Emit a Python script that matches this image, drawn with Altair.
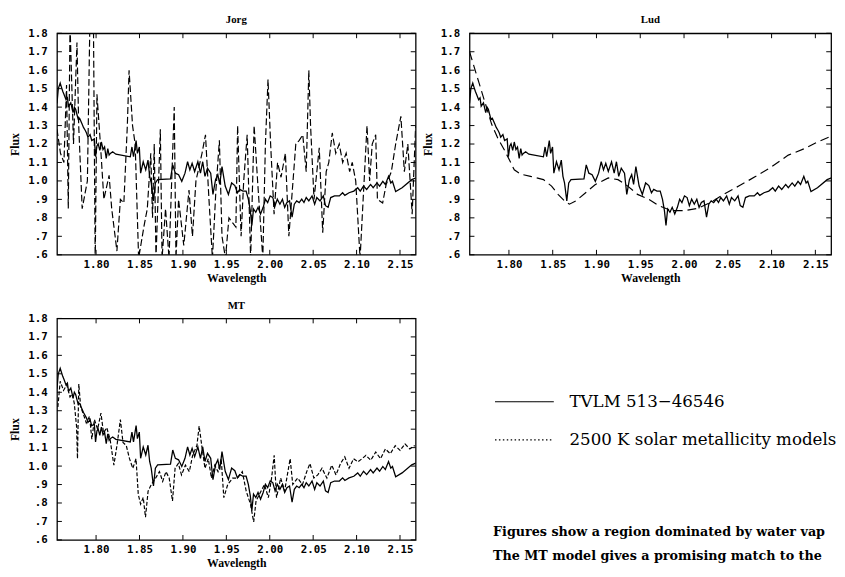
import altair as alt
import pandas as pd

# ---------------- data ----------------
OBS_WL = [1.755, 1.7565, 1.7587, 1.7600, 1.7617, 1.763, 1.7654, 1.767, 1.7683, 1.7709,
          1.7735, 1.7750, 1.7765, 1.778, 1.7794, 1.781, 1.7839, 1.7855, 1.7876, 1.789,
          1.7906, 1.7931, 1.795, 1.798, 1.7994, 1.8010, 1.8024, 1.8043, 1.8061, 1.808,
          1.8098, 1.8117, 1.8135, 1.8150, 1.8165, 1.8191, 1.8228, 1.8394, 1.8413, 1.8431,
          1.8461, 1.8476, 1.8498, 1.8513, 1.8543, 1.8572, 1.8598, 1.8617, 1.8635, 1.8661,
          1.8683, 1.8709, 1.8857, 1.8883, 1.8913, 1.895, 1.8987, 1.9024, 1.9054, 1.908,
          1.9106, 1.9135, 1.9172, 1.9202, 1.9228, 1.9254, 1.9283, 1.932, 1.9346, 1.9376,
          1.9402, 1.9424, 1.945, 1.9487, 1.9524, 1.9561, 1.9598, 1.9628, 1.9654, 1.9691,
          1.9728, 1.9754, 1.9776, 1.9794, 1.9813, 1.9839, 1.9865, 1.9894, 1.9924, 1.995,
          1.9976, 2.0005, 2.0035, 2.0061, 2.0087, 2.0117, 2.0146, 2.0172, 2.0198, 2.0228,
          2.0257, 2.0283, 2.031, 2.0339, 2.0368, 2.0394, 2.042, 2.045, 2.0487, 2.0517,
          2.0542, 2.0579, 2.0617, 2.0642, 2.0672, 2.0702, 2.0746, 2.0802, 2.0839, 2.0865,
          2.0913, 2.0968, 2.1013, 2.1042, 2.108, 2.1116, 2.1161, 2.1191, 2.1235, 2.1265,
          2.1302, 2.1331, 2.1368, 2.1394, 2.1413, 2.145, 2.1524, 2.1635, 2.175]
OBS_FLUX = [1.42, 1.50, 1.53, 1.51, 1.485, 1.47, 1.44, 1.45, 1.405, 1.423,
            1.37, 1.40, 1.388, 1.36, 1.335, 1.34, 1.308, 1.29, 1.273, 1.26,
            1.237, 1.251, 1.219, 1.228, 1.131, 1.19, 1.202, 1.166, 1.211, 1.17,
            1.184, 1.122, 1.175, 1.14, 1.149, 1.158, 1.145, 1.131, 1.184, 1.131,
            1.219, 1.149, 1.184, 1.042, 1.104, 1.06, 1.113, 1.025, 0.989, 0.892,
            0.989, 1.007, 1.011, 1.087, 1.042, 1.034, 0.998, 1.042, 1.104, 1.06,
            1.096, 1.051, 1.104, 1.042, 1.104, 1.025, 1.069, 1.042, 0.927, 1.007,
            1.034, 0.981, 1.078, 0.972, 0.927, 0.989, 0.975, 0.936, 0.954, 0.945,
            0.945, 0.90, 0.839, 0.759, 0.848, 0.83, 0.857, 0.821, 0.857, 0.901,
            0.883, 0.919, 0.91, 0.866, 0.901, 0.874, 0.901, 0.857, 0.883, 0.892,
            0.804, 0.874, 0.892, 0.883, 0.901, 0.883, 0.91, 0.892, 0.919, 0.874,
            0.91, 0.892, 0.919, 0.866, 0.857, 0.91, 0.919, 0.919, 0.936, 0.922,
            0.936, 0.945, 0.963, 0.945, 0.972, 0.954, 0.981, 0.963, 0.989, 0.972,
            0.998, 0.981, 1.025, 0.989, 0.998, 0.942, 0.963, 1.007, 1.03]

JORG_WL = [1.755, 1.759, 1.763, 1.766, 1.768, 1.770, 1.774, 1.778, 1.780, 1.784,
           1.790, 1.793, 1.797, 1.799, 1.801, 1.805, 1.809, 1.815, 1.818, 1.824,
           1.828, 1.832, 1.836, 1.838, 1.842, 1.845, 1.849, 1.855, 1.859, 1.863,
           1.865, 1.867, 1.869, 1.874, 1.876, 1.880, 1.884, 1.890, 1.892, 1.895,
           1.901, 1.907, 1.911, 1.915, 1.922, 1.926, 1.930, 1.934, 1.938, 1.942,
           1.945, 1.949, 1.953, 1.961, 1.963, 1.967, 1.970, 1.974, 1.978, 1.982,
           1.986, 1.992, 1.995, 1.998, 2.001, 2.005, 2.009, 2.013, 2.018, 2.022,
           2.026, 2.030, 2.034, 2.038, 2.042, 2.045, 2.047, 2.051, 2.057, 2.061,
           2.065, 2.068, 2.072, 2.076, 2.080, 2.084, 2.088, 2.092, 2.095, 2.099,
           2.104, 2.107, 2.112, 2.115, 2.118, 2.122, 2.124, 2.130, 2.134, 2.140,
           2.145, 2.151, 2.155, 2.159, 2.164, 2.168]
JORG_FLUX = [1.28, 1.15, 1.10, 1.52, 0.85, 1.85, 1.20, 1.75, 1.30, 0.85,
             1.00, 1.90, 1.85, 0.55, 1.47, 1.20, 0.90, 1.03, 0.85, 0.62,
             0.90, 0.88, 1.30, 1.60, 1.30, 1.20, 0.58, 0.75, 0.85, 1.15,
             0.80, 1.20, 0.58, 1.28, 0.58, 0.85, 0.58, 1.40, 0.58, 0.90,
             0.65, 0.95, 0.70, 1.00, 1.15, 1.25, 0.90, 0.58, 0.95, 1.22,
             0.70, 0.58, 0.80, 0.75, 1.30, 0.70, 1.00, 1.25, 0.58, 1.30,
             1.00, 0.58, 1.20, 1.55, 1.20, 0.82, 1.10, 1.02, 1.15, 0.70,
             0.95, 1.20, 1.22, 1.25, 1.05, 1.60, 1.30, 0.90, 1.18, 0.72,
             1.05, 1.10, 1.26, 1.15, 1.20, 1.10, 1.15, 1.05, 1.10, 1.00,
             0.58, 0.85, 1.30, 1.00, 1.20, 1.25, 0.90, 0.88, 0.98, 1.05,
             1.20, 1.35, 1.05, 1.20, 0.82, 1.30]

LUD_WL = [1.755, 1.758, 1.7654, 1.7728, 1.7802, 1.7876, 1.795, 1.8006, 1.8061, 1.8135,
          1.8246, 1.8394, 1.8487, 1.8561, 1.8635, 1.8691, 1.8765, 1.8876, 1.8987, 1.9135,
          1.9246, 1.9357, 1.9469, 1.9598, 1.9709, 1.9857, 2.0005, 2.0154, 2.0302, 2.045,
          2.0635, 2.082, 2.1005, 2.1191, 2.1376, 2.1524, 2.1654]
LUD_FLUX = [1.70, 1.653, 1.538, 1.423, 1.308, 1.228, 1.166, 1.113, 1.06, 1.037,
            1.025, 1.007, 0.972, 0.927, 0.892, 0.874, 0.892, 0.936, 0.981, 1.016,
            1.007, 0.972, 0.927, 0.900, 0.866, 0.839, 0.839, 0.851, 0.883, 0.927,
            0.975, 1.025, 1.078, 1.14, 1.175, 1.211, 1.237]

MT_WL = [1.756, 1.7587, 1.7625, 1.7662, 1.770, 1.7726, 1.7749, 1.7775, 1.7786, 1.7801,
         1.7823, 1.785, 1.7887, 1.7925, 1.7951, 1.7981, 1.8018, 1.8056, 1.8086, 1.8123,
         1.8161, 1.8205, 1.8243, 1.828, 1.831, 1.8348, 1.8385, 1.8423, 1.846, 1.8486,
         1.8513, 1.8543, 1.8569, 1.8599, 1.8636, 1.8685, 1.873, 1.8767, 1.8805, 1.8842,
         1.888, 1.891, 1.8947, 1.8984, 1.9029, 1.9074, 1.9112, 1.9161, 1.9187, 1.9217,
         1.9254, 1.9292, 1.9329, 1.9367, 1.9404, 1.9441, 1.9471, 1.9516, 1.9573, 1.9628,
         1.9684, 1.9729, 1.9778, 1.9815, 1.9842, 1.989, 1.9939, 1.9984, 2.0021, 2.0051,
         2.0078, 2.0126, 2.0171, 2.0209, 2.0235, 2.0265, 2.0321, 2.0377, 2.0426, 2.0463,
         2.0508, 2.0553, 2.0602, 2.0658, 2.0714, 2.0763, 2.0815, 2.0864, 2.0913, 2.0965,
         2.1014, 2.1063, 2.1108, 2.1164, 2.122, 2.1276, 2.1332, 2.1388, 2.1445, 2.1501,
         2.1557, 2.1613, 2.1669]
MT_FLUX = [1.32, 1.46, 1.41, 1.44, 1.375, 1.39, 1.34, 1.217, 1.04, 1.445,
           1.32, 1.287, 1.234, 1.27, 1.146, 1.252, 1.20, 1.287, 1.18, 1.208,
           1.146, 1.005, 1.12, 1.252, 1.128, 1.111, 1.04, 0.988, 1.04, 0.847,
           0.794, 0.83, 0.723, 0.864, 0.90, 0.935, 0.97, 0.917, 0.97, 0.935,
           0.811, 0.988, 1.014, 0.952, 1.005, 0.97, 1.058, 1.111, 1.217, 1.111,
           0.988, 1.04, 0.935, 1.005, 0.97, 1.04, 0.829, 0.90, 0.935, 0.935,
           0.97, 0.864, 0.794, 0.697, 0.811, 0.855, 0.90, 0.829, 0.935, 1.058,
           0.829, 0.935, 0.864, 0.97, 1.04, 0.90, 0.935, 0.90, 0.97, 1.014,
           0.935, 0.952, 0.988, 0.935, 1.005, 0.952, 1.014, 1.05, 0.988, 1.04,
           1.023, 1.04, 1.058, 1.032, 1.076, 1.04, 1.093, 1.067, 1.111, 1.085,
           1.12, 1.093, 1.111]

Y_TICKS = [0.6, 0.7, 0.8, 0.9, 1.0, 1.1, 1.2, 1.3, 1.4, 1.5, 1.6, 1.7, 1.8]
X_TICKS = [1.80, 1.85, 1.90, 1.95, 2.00, 2.05, 2.10, 2.15]

SERIES = ["TVLM 513\u221246546", "2500 K solar metallicity models"]
NOTES = ["Figures show a region dominated by water vapor absorption.",
         "The MT model gives a promising match to the data."]

# ---------------- chart ----------------
X_DOMAIN = [1.755, 2.168]
Y_DOMAIN = [0.6, 1.8]
H = 226

obs_df = pd.DataFrame({"w": OBS_WL, "f": OBS_FLUX})
ytick_df = pd.DataFrame({"v": Y_TICKS})
xtick_df = pd.DataFrame({"v": X_TICKS})

xs = alt.Scale(domain=X_DOMAIN, nice=False, zero=False)
ys = alt.Scale(domain=Y_DOMAIN, nice=False, zero=False)

xaxis = alt.Axis(values=X_TICKS, format=".2f", title="Wavelength", domain=False, ticks=False,
                 grid=False, labelFont="DejaVu Sans Mono", labelFontWeight="bold",
                 labelFontSize=11, labelColor="black", labelPadding=4, labelFlush=False,
                 labelOverlap=False, titleFont="Liberation Serif", titleFontWeight="bold",
                 titleFontSize=12, titleColor="black", titlePadding=3)
yaxis = alt.Axis(values=Y_TICKS,
                 labelExpr="datum.value >= 1 ? format(datum.value, '.1f') : replace(format(datum.value, '.1f'), '0.', '.')",
                 title="Flux", domain=False, ticks=False, grid=False,
                 labelFont="DejaVu Sans Mono", labelFontWeight="bold", labelFontSize=11,
                 labelColor="black", labelPadding=10, labelFlush=False, labelOverlap=False,
                 titleFont="Liberation Serif", titleFontWeight="bold", titleFontSize=12,
                 titleColor="black", titlePadding=6)


def panel(title, wl, flux, dash, width):
    model_df = pd.DataFrame({"w": wl, "f": flux})
    X = alt.X("w:Q", scale=xs, axis=xaxis)
    Y = alt.Y("f:Q", scale=ys, axis=yaxis)
    obs = alt.Chart(obs_df).mark_line(color="black", strokeWidth=1.3, clip=True).encode(x=X, y=Y)
    mod = alt.Chart(model_df).mark_line(color="black", strokeWidth=1.2, strokeDash=dash,
                                        clip=True).encode(x=X, y=Y)
    TX = alt.X("v:Q", scale=xs, axis=xaxis)
    TY = alt.Y("v:Q", scale=ys, axis=yaxis)
    yl = alt.Chart(ytick_df).mark_rule(color="black", strokeWidth=1).encode(
        y=TY, x=alt.value(0), x2=alt.value(5))
    yr = alt.Chart(ytick_df).mark_rule(color="black", strokeWidth=1).encode(
        y=TY, x=alt.value(width - 5), x2=alt.value(width))
    xb = alt.Chart(xtick_df).mark_rule(color="black", strokeWidth=1).encode(
        x=TX, y=alt.value(H - 5), y2=alt.value(H))
    xt = alt.Chart(xtick_df).mark_rule(color="black", strokeWidth=1).encode(
        x=TX, y=alt.value(0), y2=alt.value(5))
    return alt.layer(obs, mod, yl, yr, xb, xt).properties(
        width=width, height=H,
        title=alt.TitleParams(title, font="Liberation Serif", fontSize=11, fontWeight="bold",
                              color="black", offset=2))


jorg = panel("Jorg", JORG_WL, JORG_FLUX, [7, 3], 366)
lud = panel("Lud", LUD_WL, LUD_FLUX, [9, 5], 369)
mt = panel("MT", MT_WL, MT_FLUX, [4, 2], 366)

# legend + notes panel
legend_df = pd.DataFrame({"series": [SERIES[0], SERIES[0], SERIES[1], SERIES[1]],
                          "x": [5, 6, 5, 6], "y": [5, 6, 5, 6]})
dummy = alt.Chart(legend_df).mark_line(color="black", strokeWidth=1.2, clip=True).encode(
    x=alt.X("x:Q", scale=alt.Scale(domain=[0, 1]), axis=None),
    y=alt.Y("y:Q", scale=alt.Scale(domain=[0, 1]), axis=None),
    strokeDash=alt.StrokeDash(
        "series:N",
        scale=alt.Scale(domain=SERIES, range=[[1, 0], [1.5, 2.5]]),
        legend=alt.Legend(orient="none", legendX=446, legendY=345, title=None,
                          symbolType="stroke", symbolSize=3600, symbolStrokeWidth=1.2,
                          symbolStrokeColor="black", labelFont="DejaVu Serif",
                          labelFontSize=17, labelColor="black", labelOffset=15,
                          rowPadding=-15, labelLimit=300)))
notes = alt.Chart(pd.DataFrame({"k": [0]})).mark_text(
    align="left", baseline="alphabetic", font="DejaVu Serif", fontWeight="bold",
    fontSize=13, lineHeight=25, limit=347, ellipsis=" ", color="black").encode(
    x=alt.value(76), y=alt.value(222), text=alt.value(NOTES))
side = alt.layer(dummy, notes).properties(width=360, height=240,
                                          view=alt.ViewBackground(stroke="transparent"))

top = alt.hconcat(jorg, lud, spacing=3)
bottom = alt.hconcat(mt, side, spacing=0)
chart = alt.vconcat(top, bottom, spacing=15).properties(
    padding={"left": 0, "top": 0, "right": 0, "bottom": 0}
).configure(background="white").configure_view(stroke="black", strokeWidth=1.3)

chart.save("out.html", embed_options={"renderer": "svg", "actions": False})
